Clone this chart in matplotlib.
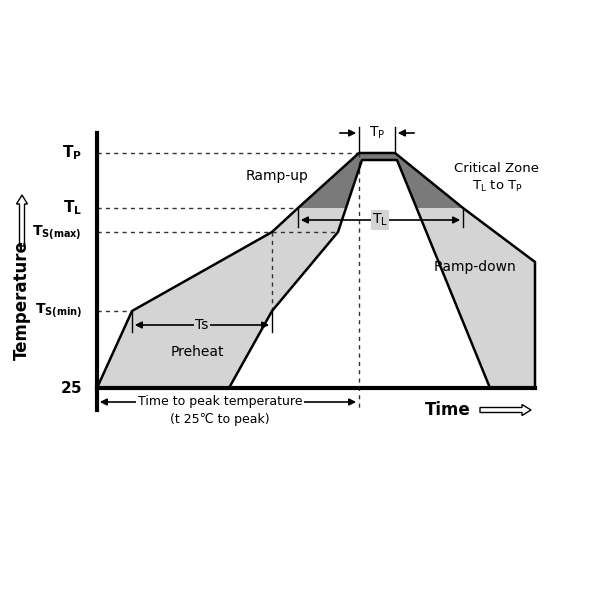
import matplotlib
matplotlib.use("Agg")
import matplotlib.pyplot as plt
from matplotlib.patches import Polygon, Rectangle, FancyArrow

plt.rcParams['font.family'] = ['DejaVu Sans']
plt.rcParams['mathtext.fontset'] = 'dejavusans'

# profile geometry (diagram units, pixel-like)
levels = {'TP': 153, 'TL': 208, 'TSmax': 232, 'TSmin': 311, 'T25': 388}
level_labels = [r'$\mathbf{T_P}$', r'$\mathbf{T_L}$', r'$\mathbf{T_{S(max)}}$', r'$\mathbf{T_{S(min)}}$', r'$\mathbf{25}$']
outer_x = [97, 132, 272, 298, 359, 395, 463, 535, 535]
outer_y = [388, 311, 232, 208, 153, 153, 208, 262, 388]
inner_x = [490, 397, 362, 338, 272, 229, 97]
inner_y = [388, 160, 160, 232, 311, 388, 388]

fig = plt.figure(figsize=(6, 6), dpi=100)
ax = fig.add_axes([0, 0, 1, 1])
ax.set_xlim(0, 600); ax.set_ylim(600, 0); ax.axis('off')

pts = list(zip(outer_x + inner_x, outer_y + inner_y))
ax.add_patch(Polygon(pts, closed=True, fc='#d4d4d4', ec='none', zorder=1))
dark = Polygon(pts, closed=True, fc='#7a7a7a', ec='none', zorder=2)
ax.add_patch(dark)
clip = Rectangle((0, 0), 600, levels['TL'], transform=ax.transData)
dark.set_clip_path(clip)
ax.plot(outer_x, outer_y, color='black', lw=1.8, zorder=3)
ax.plot(inner_x[:-1], inner_y[:-1], color='black', lw=1.8, zorder=3)

# axes
ax.plot([97, 97], [133, 410], color='black', lw=3, zorder=4)
ax.plot([97, 535], [388, 388], color='black', lw=3, zorder=4)

# dashed guides
dk = dict(color='#333333', lw=1, ls=(0, (3, 3)), zorder=2.5)
ax.plot([97, 359], [153, 153], **dk)
ax.plot([97, 298], [208, 208], **dk)
ax.plot([97, 338], [232, 232], **dk)
ax.plot([97, 132], [311, 311], **dk)
ax.plot([272, 272], [232, 311], **dk)
ax.plot([359, 359], [153, 410], **dk)

# level labels
for (k, v), lab in zip(levels.items(), level_labels):
    ax.text(82, v, lab, ha='right', va='center', fontsize=11 if k in ('TP', 'TL', 'T25') else 10)

def harrow(x0, x1, y, tick_top, tick_bot, label, lx):
    for x in (x0, x1):
        ax.plot([x, x], [tick_top, tick_bot], color='black', lw=1, zorder=5)
    ax.annotate('', xy=(x0, y), xytext=(lx, y),
                arrowprops=dict(arrowstyle='-|>', color='black', lw=1.2, mutation_scale=10), zorder=5)
    ax.annotate('', xy=(x1, y), xytext=(lx, y),
                arrowprops=dict(arrowstyle='-|>', color='black', lw=1.2, mutation_scale=10), zorder=5)
    ax.text(lx, y, label, ha='center', va='center', fontsize=10, zorder=6,
            bbox=dict(fc='#d4d4d4', ec='none', pad=1))

harrow(132, 272, 325, 311, 332, 'Ts', 202)
harrow(298, 463, 220, 208, 227, r'T$_\mathregular{L}$', 380)

# TP arrows (outside)
for x in (359, 395):
    ax.plot([x, x], [127, 153], color='black', lw=1, zorder=5)
ax.annotate('', xy=(359, 133), xytext=(337, 133), arrowprops=dict(arrowstyle='-|>', color='black', lw=1.2, mutation_scale=10))
ax.annotate('', xy=(395, 133), xytext=(417, 133), arrowprops=dict(arrowstyle='-|>', color='black', lw=1.2, mutation_scale=10))
ax.text(377, 133, r'T$_\mathregular{P}$', ha='center', va='center', fontsize=10, bbox=dict(fc='white', ec='none', pad=1))

# time to peak
ax.annotate('', xy=(97, 402), xytext=(220, 402), arrowprops=dict(arrowstyle='-|>', color='black', lw=1.2, mutation_scale=10))
ax.annotate('', xy=(359, 402), xytext=(220, 402), arrowprops=dict(arrowstyle='-|>', color='black', lw=1.2, mutation_scale=10))
ax.text(220, 402, 'Time to peak temperature', ha='center', va='center', fontsize=9, bbox=dict(fc='white', ec='none', pad=1))
ax.text(220, 419, '(t 25\u2103 to peak)', ha='center', va='center', fontsize=9)

ax.text(277, 176, 'Ramp-up', ha='center', va='center', fontsize=10)
ax.text(197, 352, 'Preheat', ha='center', va='center', fontsize=10)
ax.text(475, 267, 'Ramp-down', ha='center', va='center', fontsize=10)
ax.text(497, 168, 'Critical Zone', ha='center', va='center', fontsize=9.5)
ax.text(497, 186, r'T$_\mathregular{L}$ to T$_\mathregular{P}$', ha='center', va='center', fontsize=9.5)

ax.text(448, 410, 'Time', ha='center', va='center', fontsize=12, fontweight='bold')
ax.add_patch(FancyArrow(480, 410, 42, 0, width=5, head_width=11, head_length=9, fc='white', ec='black', lw=1))
ax.text(22, 300, 'Temperature', ha='center', va='center', rotation=90, fontsize=12, fontweight='bold')
ax.add_patch(FancyArrow(22, 246, 0, -42, width=5, head_width=11, head_length=9, fc='white', ec='black', lw=1))

fig.savefig('out.png', dpi=100)
